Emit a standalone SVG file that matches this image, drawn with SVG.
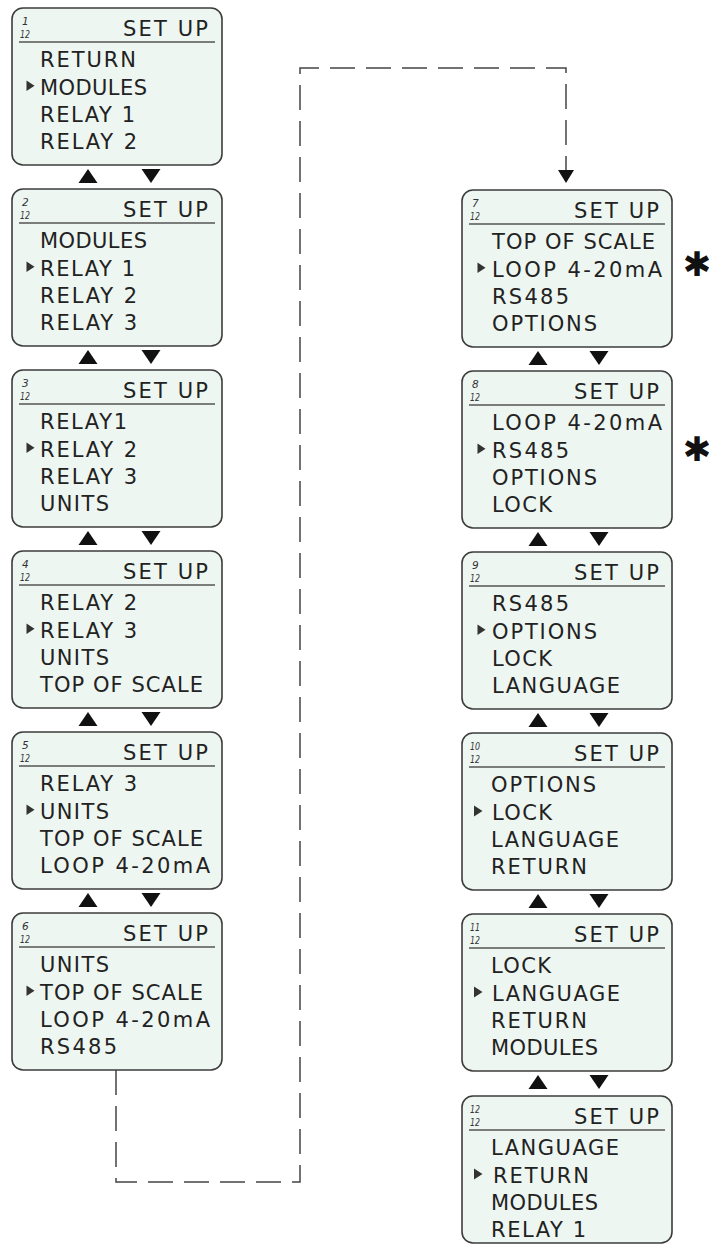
<svg xmlns="http://www.w3.org/2000/svg" width="709" height="1253" viewBox="0 0 709 1253">
<style>
.box{fill:#eef6f1;stroke:#3c3c3c;stroke-width:1.6}
.sep{stroke:#555;stroke-width:1.3}
.fr{font-family:"DejaVu Sans",sans-serif;font-size:10.5px;font-style:italic;fill:#333}
.hd{font-family:"DejaVu Sans",sans-serif;font-size:21px;fill:#222}
.t{font-family:"DejaVu Sans",sans-serif;font-size:21px;fill:#222}
.ptr{fill:#333}
.arr{fill:#111}
.dash{fill:none;stroke:#444;stroke-width:1.5;stroke-dasharray:25 11}
.ast{font-family:"DejaVu Sans",sans-serif;font-weight:bold;font-size:34px;fill:#111}
</style>
<g id="connectors">
<path class="dash" d="M116,1070 V1182 H300 V68 H566 V171"/>
<polygon class="arr" points="558,170 574,170 566,183"/>
<polygon class="arr" points="78.5,183 97.5,183 88,169"/><polygon class="arr" points="141.5,169 160.5,169 151,183"/>
<polygon class="arr" points="78.5,364 97.5,364 88,350"/><polygon class="arr" points="141.5,350 160.5,350 151,364"/>
<polygon class="arr" points="78.5,545 97.5,545 88,531"/><polygon class="arr" points="141.5,531 160.5,531 151,545"/>
<polygon class="arr" points="78.5,726 97.5,726 88,712"/><polygon class="arr" points="141.5,712 160.5,712 151,726"/>
<polygon class="arr" points="78.5,907 97.5,907 88,893"/><polygon class="arr" points="141.5,893 160.5,893 151,907"/>
<polygon class="arr" points="528.5,365 547.5,365 538,351"/><polygon class="arr" points="589.5,351 608.5,351 599,365"/>
<polygon class="arr" points="528.5,546 547.5,546 538,532"/><polygon class="arr" points="589.5,532 608.5,532 599,546"/>
<polygon class="arr" points="528.5,727 547.5,727 538,713"/><polygon class="arr" points="589.5,713 608.5,713 599,727"/>
<polygon class="arr" points="528.5,908 547.5,908 538,894"/><polygon class="arr" points="589.5,894 608.5,894 599,908"/>
<polygon class="arr" points="528.5,1089 547.5,1089 538,1075"/><polygon class="arr" points="589.5,1075 608.5,1075 599,1089"/>
</g>
<g id="n1" transform="translate(12,8)">
<rect class="box" width="210" height="157" rx="11"/><line class="sep" x1="7" y1="34" x2="203" y2="34"/>
<text class="fr" x="10" y="16.5">1</text><text class="fr" x="8" y="30" textLength="10" lengthAdjust="spacingAndGlyphs">12</text>
<text class="hd" x="111" y="28" textLength="85">SET UP</text>
<polygon class="ptr" points="14.5,72.5 14.5,83 22.5,77.75"/>
<text class="t" x="28" y="59" textLength="96">RETURN</text>
<text class="t" x="28" y="86.5" textLength="107">MODULES</text>
<text class="t" x="28" y="113.5" textLength="95">RELAY 1</text>
<text class="t" x="28" y="141" textLength="97">RELAY 2</text>
</g>
<g id="n2" transform="translate(12,189)">
<rect class="box" width="210" height="157" rx="11"/><line class="sep" x1="7" y1="34" x2="203" y2="34"/>
<text class="fr" x="10" y="16.5">2</text><text class="fr" x="8" y="30" textLength="10" lengthAdjust="spacingAndGlyphs">12</text>
<text class="hd" x="111" y="28" textLength="85">SET UP</text>
<polygon class="ptr" points="14.5,72.5 14.5,83 22.5,77.75"/>
<text class="t" x="28" y="59" textLength="107">MODULES</text>
<text class="t" x="28" y="86.5" textLength="95">RELAY 1</text>
<text class="t" x="28" y="113.5" textLength="97">RELAY 2</text>
<text class="t" x="28" y="141" textLength="97">RELAY 3</text>
</g>
<g id="n3" transform="translate(12,370)">
<rect class="box" width="210" height="157" rx="11"/><line class="sep" x1="7" y1="34" x2="203" y2="34"/>
<text class="fr" x="10" y="16.5">3</text><text class="fr" x="8" y="30" textLength="10" lengthAdjust="spacingAndGlyphs">12</text>
<text class="hd" x="111" y="28" textLength="85">SET UP</text>
<polygon class="ptr" points="14.5,72.5 14.5,83 22.5,77.75"/>
<text class="t" x="28" y="59" textLength="87">RELAY1</text>
<text class="t" x="28" y="86.5" textLength="97">RELAY 2</text>
<text class="t" x="28" y="113.5" textLength="97">RELAY 3</text>
<text class="t" x="28" y="141" textLength="69">UNITS</text>
</g>
<g id="n4" transform="translate(12,551)">
<rect class="box" width="210" height="157" rx="11"/><line class="sep" x1="7" y1="34" x2="203" y2="34"/>
<text class="fr" x="10" y="16.5">4</text><text class="fr" x="8" y="30" textLength="10" lengthAdjust="spacingAndGlyphs">12</text>
<text class="hd" x="111" y="28" textLength="85">SET UP</text>
<polygon class="ptr" points="14.5,72.5 14.5,83 22.5,77.75"/>
<text class="t" x="28" y="59" textLength="97">RELAY 2</text>
<text class="t" x="28" y="86.5" textLength="97">RELAY 3</text>
<text class="t" x="28" y="113.5" textLength="69">UNITS</text>
<text class="t" x="28" y="141" textLength="163">TOP OF SCALE</text>
</g>
<g id="n5" transform="translate(12,732)">
<rect class="box" width="210" height="157" rx="11"/><line class="sep" x1="7" y1="34" x2="203" y2="34"/>
<text class="fr" x="10" y="16.5">5</text><text class="fr" x="8" y="30" textLength="10" lengthAdjust="spacingAndGlyphs">12</text>
<text class="hd" x="111" y="28" textLength="85">SET UP</text>
<polygon class="ptr" points="14.5,72.5 14.5,83 22.5,77.75"/>
<text class="t" x="28" y="59" textLength="97">RELAY 3</text>
<text class="t" x="28" y="86.5" textLength="69">UNITS</text>
<text class="t" x="28" y="113.5" textLength="163">TOP OF SCALE</text>
<text class="t" x="28" y="141" textLength="170">LOOP 4-20mA</text>
</g>
<g id="n6" transform="translate(12,913)">
<rect class="box" width="210" height="157" rx="11"/><line class="sep" x1="7" y1="34" x2="203" y2="34"/>
<text class="fr" x="10" y="16.5">6</text><text class="fr" x="8" y="30" textLength="10" lengthAdjust="spacingAndGlyphs">12</text>
<text class="hd" x="111" y="28" textLength="85">SET UP</text>
<polygon class="ptr" points="14.5,72.5 14.5,83 22.5,77.75"/>
<text class="t" x="28" y="59" textLength="69">UNITS</text>
<text class="t" x="28" y="86.5" textLength="163">TOP OF SCALE</text>
<text class="t" x="28" y="113.5" textLength="170">LOOP 4-20mA</text>
<text class="t" x="28" y="141" textLength="77">RS485</text>
</g>
<g id="n7" transform="translate(462,190)">
<rect class="box" width="210" height="157" rx="11"/><line class="sep" x1="7" y1="34" x2="203" y2="34"/>
<text class="fr" x="10" y="16.5">7</text><text class="fr" x="8" y="30" textLength="10" lengthAdjust="spacingAndGlyphs">12</text>
<text class="hd" x="112" y="28" textLength="85">SET UP</text>
<polygon class="ptr" points="15.5,72.5 15.5,83 23.5,77.75"/>
<text class="t" x="30" y="59" textLength="163">TOP OF SCALE</text>
<text class="t" x="30" y="86.5" textLength="170">LOOP 4-20mA</text>
<text class="t" x="30" y="113.5" textLength="77">RS485</text>
<text class="t" x="30" y="141" textLength="105">OPTIONS</text>
</g>
<g id="n8" transform="translate(462,371)">
<rect class="box" width="210" height="157" rx="11"/><line class="sep" x1="7" y1="34" x2="203" y2="34"/>
<text class="fr" x="10" y="16.5">8</text><text class="fr" x="8" y="30" textLength="10" lengthAdjust="spacingAndGlyphs">12</text>
<text class="hd" x="112" y="28" textLength="85">SET UP</text>
<polygon class="ptr" points="15.5,72.5 15.5,83 23.5,77.75"/>
<text class="t" x="30" y="59" textLength="170">LOOP 4-20mA</text>
<text class="t" x="30" y="86.5" textLength="77">RS485</text>
<text class="t" x="30" y="113.5" textLength="105">OPTIONS</text>
<text class="t" x="30" y="141" textLength="60">LOCK</text>
</g>
<g id="n9" transform="translate(462,552)">
<rect class="box" width="210" height="157" rx="11"/><line class="sep" x1="7" y1="34" x2="203" y2="34"/>
<text class="fr" x="10" y="16.5">9</text><text class="fr" x="8" y="30" textLength="10" lengthAdjust="spacingAndGlyphs">12</text>
<text class="hd" x="112" y="28" textLength="85">SET UP</text>
<polygon class="ptr" points="15.5,72.5 15.5,83 23.5,77.75"/>
<text class="t" x="30" y="59" textLength="77">RS485</text>
<text class="t" x="30" y="86.5" textLength="105">OPTIONS</text>
<text class="t" x="30" y="113.5" textLength="60">LOCK</text>
<text class="t" x="30" y="141" textLength="128">LANGUAGE</text>
</g>
<g id="n10" transform="translate(462,733)">
<rect class="box" width="210" height="157" rx="11"/><line class="sep" x1="7" y1="34" x2="203" y2="34"/>
<text class="fr" x="8" y="16.5" textLength="10" lengthAdjust="spacingAndGlyphs">10</text><text class="fr" x="8" y="30" textLength="10" lengthAdjust="spacingAndGlyphs">12</text>
<text class="hd" x="112" y="28" textLength="85">SET UP</text>
<polygon class="ptr" points="12,72.5 12,83.5 20.5,78"/>
<text class="t" x="29" y="59" textLength="105">OPTIONS</text>
<text class="t" x="30" y="86.5" textLength="60">LOCK</text>
<text class="t" x="29" y="113.5" textLength="128">LANGUAGE</text>
<text class="t" x="29" y="141" textLength="96">RETURN</text>
</g>
<g id="n11" transform="translate(462,914)">
<rect class="box" width="210" height="157" rx="11"/><line class="sep" x1="7" y1="34" x2="203" y2="34"/>
<text class="fr" x="8" y="16.5" textLength="10" lengthAdjust="spacingAndGlyphs">11</text><text class="fr" x="8" y="30" textLength="10" lengthAdjust="spacingAndGlyphs">12</text>
<text class="hd" x="112" y="28" textLength="85">SET UP</text>
<polygon class="ptr" points="12,72.5 12,83.5 20.5,78"/>
<text class="t" x="29" y="59" textLength="60">LOCK</text>
<text class="t" x="30" y="86.5" textLength="128">LANGUAGE</text>
<text class="t" x="29" y="113.5" textLength="96">RETURN</text>
<text class="t" x="29" y="141" textLength="107">MODULES</text>
</g>
<g id="n12" transform="translate(462,1096)">
<rect class="box" width="210" height="147" rx="11"/><line class="sep" x1="7" y1="34" x2="203" y2="34"/>
<text class="fr" x="8" y="16.5" textLength="10" lengthAdjust="spacingAndGlyphs">12</text><text class="fr" x="8" y="30" textLength="10" lengthAdjust="spacingAndGlyphs">12</text>
<text class="hd" x="112" y="28" textLength="85">SET UP</text>
<polygon class="ptr" points="12,72.5 12,83.5 20.5,78"/>
<text class="t" x="29" y="59" textLength="128">LANGUAGE</text>
<text class="t" x="31" y="86.5" textLength="96">RETURN</text>
<text class="t" x="29" y="113.5" textLength="107">MODULES</text>
<text class="t" x="29" y="141" textLength="95">RELAY 1</text>
</g>
<g id="asterisks">
<text class="ast" x="697" y="276" text-anchor="middle">✱</text>
<text class="ast" x="697" y="461" text-anchor="middle">✱</text>
</g>
</svg>
